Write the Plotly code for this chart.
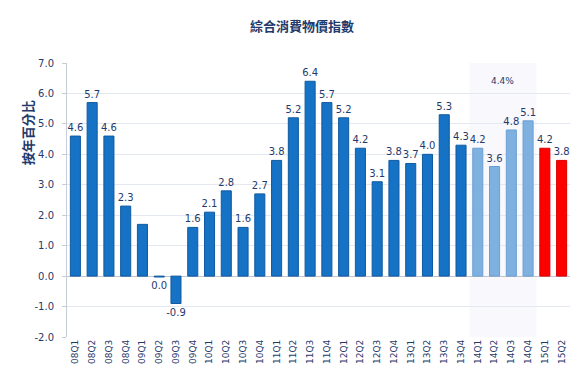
import plotly.graph_objects as go

categories = ["08Q1","08Q2","08Q3","08Q4","09Q1","09Q2","09Q3","09Q4",
              "10Q1","10Q2","10Q3","10Q4","11Q1","11Q2","11Q3","11Q4",
              "12Q1","12Q2","12Q3","12Q4","13Q1","13Q2","13Q3","13Q4",
              "14Q1","14Q2","14Q3","14Q4","15Q1","15Q2"]
values = [4.6, 5.7, 4.6, 2.3, 1.7, -0.03, -0.9, 1.6,
          2.1, 2.8, 1.6, 2.7, 3.8, 5.2, 6.4, 5.7,
          5.2, 4.2, 3.1, 3.8, 3.7, 4.0, 5.3, 4.3,
          4.2, 3.6, 4.8, 5.1, 4.2, 3.8]
labels = ["4.6","5.7","4.6","2.3","","0.0","-0.9","1.6",
          "2.1","2.8","1.6","2.7","3.8","5.2","6.4","5.7",
          "5.2","4.2","3.1","3.8","3.7","4.0","5.3","4.3",
          "4.2","3.6","4.8","5.1","4.2","3.8"]
groups = ["hist"] * 24 + ["2014"] * 4 + ["2015"] * 2
group_colors = {"hist": "#1672c4", "2014": "#7fb1e0", "2015": "#ff0000"}
group_line = {"hist": "#0f5aa0", "2014": "#6a9fd3", "2015": "#d80000"}
shade_start, shade_end = "14Q1", "14Q4"
shade_note = "4.4%"
y_ticks = [-2.0, -1.0, 0.0, 1.0, 2.0, 3.0, 4.0, 5.0, 6.0, 7.0]

navy = "#1f3a6b"
fnt = "DejaVu Sans, Verdana"
fig = go.Figure()

i0 = categories.index(shade_start)
i1 = categories.index(shade_end)
fig.add_shape(type="rect", xref="x", yref="y", x0=i0 - 0.5, x1=i1 + 0.5,
              y0=-2, y1=7, fillcolor="#f9f8fd", line_width=0, layer="below")
fig.add_annotation(x=(i0 + i1) / 2, y=6.4, text=shade_note, showarrow=False,
                   font=dict(size=9, color=navy, family=fnt))

fig.add_trace(go.Bar(
    x=list(range(len(categories))), y=values,
    marker=dict(color=[group_colors[g] for g in groups],
                line=dict(color=[group_line[g] for g in groups], width=1)),
    text=labels, textposition="outside", cliponaxis=False, constraintext="none",
    textfont=dict(size=10, color=navy, family=fnt),
    outsidetextfont=dict(size=10, color=navy, family=fnt),
    hoverinfo="skip", width=0.6,
))

fig.update_layout(
    width=588, height=388,
    margin=dict(l=59, r=26, t=55, b=59),
    paper_bgcolor="white", plot_bgcolor="rgba(0,0,0,0)",
    showlegend=False,
    title=dict(text="<b>綜合消費物價指數</b>", x=0.5, xanchor="center",
               y=1 - 18 / 388, yanchor="middle",
               font=dict(size=13, color=navy, family="Noto Sans CJK TC")),
)
fig.add_annotation(text="<b>按年百分比</b>", xref="paper", yref="paper",
                   x=-0.077, y=0.745, textangle=-90, showarrow=False,
                   xanchor="center", yanchor="middle",
                   font=dict(size=13, color=navy, family="Noto Sans CJK TC"))
fig.update_xaxes(
    tickmode="array", tickvals=list(range(len(categories))), ticktext=categories,
    tickangle=-90, range=[-0.5, len(categories) - 0.5],
    tickfont=dict(size=9, color=navy, family=fnt),
    showgrid=False, showline=False, ticks="",
)
fig.update_yaxes(
    range=[-2, 7], tickvals=y_ticks, ticktext=[f"{v:.1f}" for v in y_ticks],
    tickfont=dict(size=10, color=navy, family=fnt),
    showgrid=True, gridcolor="#e4e8f3", gridwidth=1,
    showline=True, linecolor="#c8ccd6", ticks="outside", ticklen=4, tickcolor="#c8ccd6",
    ticklabelstandoff=6,
    zeroline=True, zerolinecolor="#c0c4cc", zerolinewidth=1,
)
fig.write_html("out.html")
